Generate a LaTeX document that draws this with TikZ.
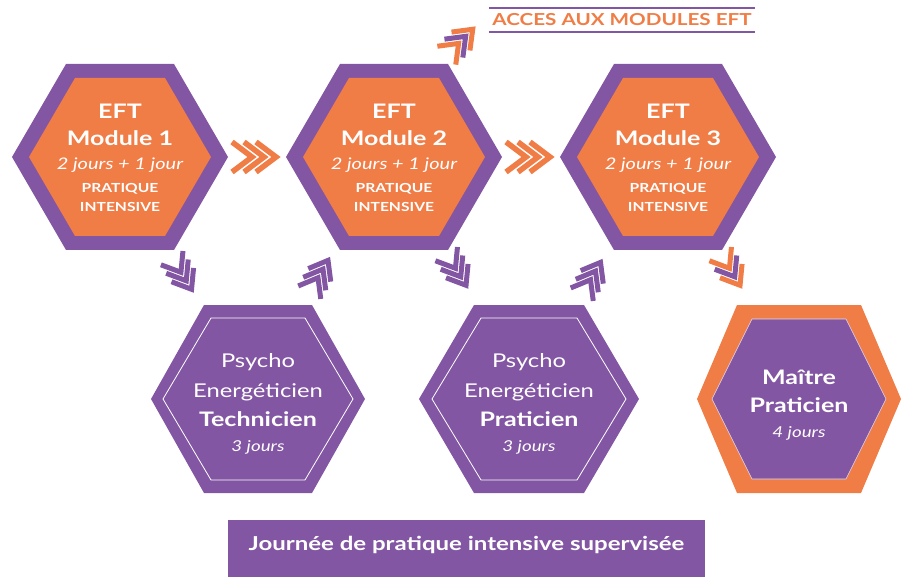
\documentclass[tikz,border=0pt]{standalone}
\usepackage{fontspec}
\setmainfont{Lato}[FakeStretch=1.25]
\usetikzlibrary{calc}
\definecolor{org}{RGB}{240,124,70}
\definecolor{pur}{RGB}{131,86,163}
\begin{document}
\begin{tikzpicture}[x=1pt,y=-1pt,
  hexp/.style args={#1/#2/#3}{insert path={++(-#1,0) -- ++(#2,-#3) -- ++({2*#1-2*#2},0) -- ++(#2,#3) -- ++(-#2,#3) -- ++({2*#2-2*#1},0) -- cycle}},
  txt/.style={text=white, inner sep=0pt},
  ftitle/.style={txt, font=\bfseries\fontsize{20}{22}\selectfont},
  fdays/.style={txt, font=\itshape\fontsize{16}{18}\selectfont},
  fsmall/.style={txt, font=\bfseries\fontsize{12.5}{14}\selectfont},
  fpsy/.style={txt, font=\fontsize{19}{21}\selectfont},
  fbold/.style={txt, font=\bfseries\fontsize{20}{22}\selectfont},
  fday2/.style={txt, font=\itshape\fontsize{15}{17}\selectfont},
  chline/.style={line width=5.5pt, miter limit=10},
  pics/chev/.style n args={3}{code={
    \draw[chline,#1] (-22,-15) -- (-2,0) -- (-22,15);
    \draw[chline,#2] (-10,-15) -- (10,0) -- (-10,15);
    \draw[chline,#3] (2,-15) -- (22,0) -- (2,15);
  }},
  pics/chevs/.style n args={3}{code={
    \draw[chline,line width=5pt,#1] (-19,-13) -- (-2,0) -- (-19,13);
    \draw[chline,line width=5pt,#2] (-9,-13) -- (8,0) -- (-9,13);
    \draw[chline,line width=5pt,#3] (1,-13) -- (18,0) -- (1,13);
  }}
]
\useasboundingbox (0,0) rectangle (904,577);

% centres
\coordinate (h1) at (120,157);
\coordinate (h2) at (394,157);
\coordinate (h3) at (668,157);
\coordinate (h4) at (258,399);
\coordinate (h5) at (529,399);
\coordinate (h6) at (799,399);

% top hexagons
\foreach \n in {1,2,3}{
  \fill[pur] (h\n) [hexp=108/54/93];
  \fill[org] (h\n) [hexp=91/46/79];
  \node[ftitle] (t\n a) at ($(h\n)+(0,-46)$) {EFT};
  \node[ftitle] (t\n b) at ($(h\n)+(0,-19)$) {Module \n};
  \node[fdays]  (t\n c) at ($(h\n)+(0,8)$) {2 jours + 1 jour};
  \node[fsmall] (t\n d) at ($(h\n)+(0,32)$) {PRATIQUE};
  \node[fsmall] (t\n e) at ($(h\n)+(0,50)$) {INTENSIVE};
}

% bottom hexagons
\fill[pur] (h4) [hexp=107/53/94];
\draw[white, line width=0.8pt] (h4) [hexp=95/48/81];
\fill[pur] (h5) [hexp=110/55/94];
\draw[white, line width=0.8pt] (h5) [hexp=97/49/81];
\fill[org] (h6) [hexp=102/40/94];
\fill[pur] (h6) [hexp=87/40/80];
\draw[white!80!pur, line width=0.6pt] (h6) [hexp=87/40/80];

\node[fpsy] (b4a) at ($(h4)+(0,-37)$) {Psycho};
\node[fpsy] (b4b) at ($(h4)+(0,-7)$) {Energéticien};
\node[fbold] (b4c) at ($(h4)+(0,20)$) {Technicien};
\node[fday2] (b4d) at ($(h4)+(0,48)$) {3 jours};

\node[fpsy] (b5a) at ($(h5)+(0,-37)$) {Psycho};
\node[fpsy] (b5b) at ($(h5)+(0,-7)$) {Energéticien};
\node[fbold] (b5c) at ($(h5)+(0,20)$) {Praticien};
\node[fday2] (b5d) at ($(h5)+(0,48)$) {3 jours};

\node[fbold] (b6a) at ($(h6)+(0,-22)$) {Maître};
\node[fbold] (b6b) at ($(h6)+(0,6)$) {Praticien};
\node[fday2] (b6c) at ($(h6)+(0,34)$) {4 jours};

% chevron arrows
\pic at ($(h1)!0.5!(h2)+(-3,0)$) {chev={org}{org}{org}};
\pic at ($(h2)!0.5!(h3)+(-3,0)$) {chev={org}{org}{org}};
\pic[rotate=-58] at ($(h1)!0.5!(h4)+(-7,-4)$) {chevs={pur}{pur}{pur}};
\pic[rotate=60] at ($(h4)!0.5!(h2)+(-7,-2)$) {chevs={pur}{pur}{pur}};
\pic[rotate=-58] at ($(h2)!0.5!(h5)+(-5,-8)$) {chevs={pur}{pur}{pur}};
\pic[rotate=60] at ($(h5)!0.5!(h3)+(-7,0)$) {chevs={pur}{pur}{pur}};
\pic[rotate=-58] at ($(h3)!0.5!(h6)+(-3,-8)$) {chevs={org}{pur}{org}};

% acces aux modules
\coordinate (acc) at (622,20);
\node[txt, text=org, font=\bfseries\fontsize{16.5}{18}\selectfont] (acct) at (acc) {ACCES AUX MODULES EFT};
\draw[pur, line width=1.6pt] ($(acc)+(-133,-12)$) coordinate (l1a) -- ($(acc)+(133,-12)$) coordinate (l1b);
\draw[pur, line width=1.6pt] ($(acc)+(-133,12)$) coordinate (l2a) -- ($(acc)+(133,12)$) coordinate (l2b);
\pic[rotate=45] at ($(h2)+(66,-115)$) {chevs={org}{pur}{org}};

% banner
\fill[pur] (228,520) rectangle (705,577);
\node[txt, font=\bfseries\fontsize{19.2}{21}\selectfont] (ban) at (466.5,545) {Journée de pratique intensive supervisée};
\end{tikzpicture}
\end{document}
